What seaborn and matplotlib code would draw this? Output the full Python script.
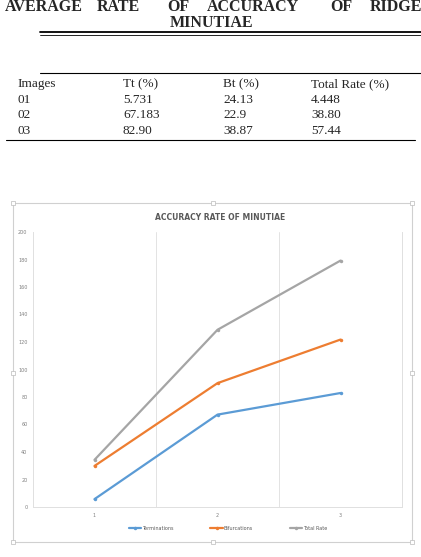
import numpy as np
import pandas as pd
import matplotlib
matplotlib.use('Agg')
import matplotlib.pyplot as plt
import seaborn as sns

# Table values (page shows them as text, the chart stacks them)
images = ['01', '02', '03']
tt = [5.731, 67.183, 82.90]
bt = [24.13, 22.9, 38.87]
total = [4.448, 38.80, 57.44]
tt_txt = ['5.731', '67.183', '82.90']
bt_txt = ['24.13', '22.9', '38.87']
total_txt = ['4.448', '38.80', '57.44']
series_names = ['Terminations', 'Bifurcations', 'Total Rate']
x_cats = [1, 2, 3]
y_ticks = list(range(0, 201, 20))
colors = ['#5B9BD5', '#ED7D31', '#A5A5A5']

# stacked line chart, like excel does it
stacked = np.cumsum(np.array([tt, bt, total]), axis=0)
df = pd.DataFrame({
    'x': x_cats * 3,
    'value': stacked.ravel(),
    'series': np.repeat(series_names, 3),
})

W, H = 421, 557
sns.set_style('white')
fig = plt.figure(figsize=(W / 100, H / 100), dpi=100)


def fx(px):
    return px / W


def fy(py):
    return 1 - py / H


serif = 'Liberation Serif'

# page heading
words = [('AVERAGE', 83, 'right'), ('RATE', 97, 'left'), ('OF', 167, 'left'),
         ('ACCURACY', 207, 'left'), ('OF', 330, 'left'), ('RIDGE', 370, 'left')]
for w, xp, ha in words:
    fig.text(fx(xp), fy(11), w, ha=ha, va='baseline', family=serif,
             weight='bold', fontsize=11.5)
fig.text(fx(212), fy(27), 'MINUTIAE', ha='center', va='baseline', family=serif,
         weight='bold', fontsize=11.5)

# rules of the table
fig.add_artist(plt.Line2D([fx(40), 1], [fy(31.5), fy(31.5)], color='black', lw=1.3))
fig.add_artist(plt.Line2D([fx(40), 1], [fy(34.5), fy(34.5)], color='black', lw=0.6))
fig.add_artist(plt.Line2D([fx(40), 1], [fy(73), fy(73)], color='black', lw=0.8))
fig.add_artist(plt.Line2D([fx(6), fx(415)], [fy(140), fy(140)], color='black', lw=0.8))

col_x = [17, 123, 223, 311]
header = ['Images', 'Tt (%)', 'Bt (%)', 'Total Rate (%)']
for xp, h in zip(col_x, header):
    fig.text(fx(xp), fy(87), h, ha='left', va='baseline', family=serif, fontsize=9.5)
row_y = [103, 118.5, 134]
for i, yp in enumerate(row_y):
    for xp, v in zip(col_x, [images[i], tt_txt[i], bt_txt[i], total_txt[i]]):
        fig.text(fx(xp), fy(yp), v, ha='left', va='baseline', family=serif, fontsize=9.5)

# chart frame with selection handles
fl, fr, ft, fb = 13, 412, 203, 542
fig.add_artist(plt.Rectangle((fx(fl), fy(fb)), fx(fr - fl), (fb - ft) / H,
                             fill=False, edgecolor='#D0D0D0', lw=0.8))
for hx in [fl, (fl + fr) / 2, fr]:
    for hy in [ft, (ft + fb) / 2, fb]:
        if hx == (fl + fr) / 2 and hy == (ft + fb) / 2:
            continue
        fig.add_artist(plt.Rectangle((fx(hx - 2), fy(hy + 2)), fx(4), 4 / H,
                                     facecolor='white', edgecolor='#BBBBBB', lw=0.5))

ax = fig.add_axes([fx(33), fy(507), fx(402 - 33), (507 - 232) / H])
sns.lineplot(data=df, x='x', y='value', hue='series', palette=colors,
             marker='o', markersize=2.5, markeredgewidth=0, linewidth=1.6, ax=ax)

ax.set_xlim(0.5, 3.5)
ax.set_ylim(0, 200)
ax.set_xticks(x_cats)
ax.set_xticklabels([str(c) for c in x_cats])
ax.set_yticks(y_ticks)
ax.tick_params(length=0, labelsize=3.5, labelcolor='#808080', pad=4)
ax.set_xlabel('')
ax.set_ylabel('')
for b in [1.5, 2.5]:
    ax.axvline(b, color='#E3E3E3', lw=0.7, zorder=0)
for s in ['left', 'right', 'bottom']:
    ax.spines[s].set_color('#E0E0E0')
    ax.spines[s].set_linewidth(0.7)
ax.spines['top'].set_visible(False)

fig.text(fx(220), fy(218), 'ACCURACY RATE OF MINUTIAE', ha='center', va='center',
         fontsize=5.5, weight='bold', color='#595959')

sns.move_legend(ax, 'center', bbox_to_anchor=(fx(228), fy(528)),
                bbox_transform=fig.transFigure, ncol=3, frameon=False, title=None,
                fontsize=3.5, handlelength=2.6, handletextpad=0.2, columnspacing=7.5)
for t in ax.get_legend().get_texts():
    t.set_color('#595959')

fig.savefig('out.png', dpi=100)
